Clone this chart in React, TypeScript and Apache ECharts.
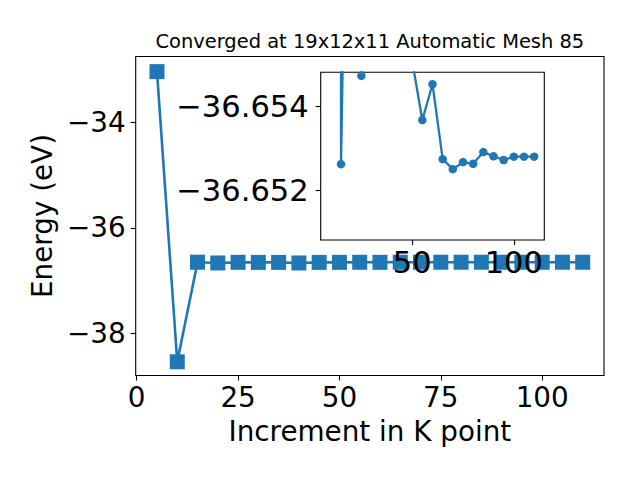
import React, { useEffect, useRef } from 'react';
import * as echarts from 'echarts';

const kPoints = [5, 10, 15, 20, 25, 30, 35, 40, 45, 50, 55, 60, 65, 70, 75, 80, 85, 90, 95, 100, 105, 110];
const energies = [
  -33.04, -38.54, -36.65262, -36.667, -36.65474, -36.656, -36.656, -36.667, -36.656, -36.6551,
  -36.65368, -36.65454, -36.65274, -36.6525, -36.65267, -36.65263, -36.65291, -36.65281, -36.65272,
  -36.6528, -36.6528, -36.6528,
];
const mainXTicks = [0, 25, 50, 75, 100];
const mainYTicks = [-38, -36, -34];
const insetXTicks = [50, 100];
const insetYTicks = [-36.654, -36.652];
const titleText = 'Converged at 19x12x11 Automatic Mesh 85';
const xLabel = 'Increment in K point';
const yLabel = 'Energy (eV)';

const FONT = 'DejaVu Sans';
const BLUE = '#1f77b4';
const fmt = (v: number) => String(v).replace('-', '\u2212');

export default function App() {
  const ref = useRef<HTMLDivElement>(null);
  useEffect(() => {
    if (!ref.current) return;
    const chart = echarts.init(ref.current, null, { renderer: 'svg' });
    const mainData = kPoints.map((x, i) => [x, energies[i]]);
    const insetData = kPoints.slice(1).map((x, i) => [x, energies[i + 1]]);
    const tick = (vals: number[]) => ({
      show: true,
      length: 5,
      customValues: vals,
      lineStyle: { color: '#000', width: 1.1 },
    });
    const label = (vals: number[], margin: number, size: number) => ({
      customValues: vals,
      fontSize: size,
      color: '#000',
      fontFamily: FONT,
      margin,
      formatter: (v: number) => fmt(v),
    });
    chart.setOption({
      animation: false,
      backgroundColor: '#fff',
      graphic: [
        {
          type: 'text',
          x: 369.85,
          y: 41,
          style: {
            text: titleText,
            fontSize: 19.44,
            fontFamily: FONT,
            fill: '#000',
            textAlign: 'center',
            textVerticalAlign: 'middle',
          },
        },
      ],
      grid: [
        {
          left: 135.7, top: 56.5, width: 468.3, height: 319,
          show: true, borderColor: '#000', borderWidth: 1.1, backgroundColor: '#fff',
          outerBoundsMode: 'none',
        },
        {
          left: 320.7, top: 72.3, width: 223.6, height: 167.7,
          show: true, borderColor: '#000', borderWidth: 1.1, backgroundColor: '#fff',
          outerBoundsMode: 'none', z: 5,
        },
      ],
      xAxis: [
        {
          gridIndex: 0, type: 'value', min: -0.25, max: 115.25,
          splitLine: { show: false },
          axisLine: { show: false, onZero: false },
          axisTick: tick(mainXTicks),
          axisLabel: label(mainXTicks, 8, 27.8),
          name: xLabel, nameLocation: 'middle', nameGap: 42,
          nameTextStyle: { fontSize: 27.8, color: '#000', fontFamily: FONT },
        },
        {
          gridIndex: 1, type: 'value', min: 5, max: 115, z: 10,
          splitLine: { show: false },
          axisLine: { show: false, onZero: false },
          axisTick: tick(insetXTicks),
          axisLabel: label(insetXTicks, 6.5, 30.56),
        },
      ],
      yAxis: [
        {
          gridIndex: 0, type: 'value', min: -38.8, max: -32.753,
          splitLine: { show: false },
          axisLine: { show: false, onZero: false },
          axisTick: tick(mainYTicks),
          axisLabel: label(mainYTicks, 10, 27.8),
          name: yLabel, nameLocation: 'middle', nameGap: 72, nameRotate: 90,
          nameTextStyle: { fontSize: 27.8, color: '#000', fontFamily: FONT },
        },
        {
          gridIndex: 1, type: 'value', inverse: true, min: -36.654826, max: -36.6508, z: 10,
          splitLine: { show: false },
          axisLine: { show: false, onZero: false },
          axisTick: tick(insetYTicks),
          axisLabel: label(insetYTicks, 12, 30.56),
        },
      ],
      series: [
        {
          type: 'line', xAxisIndex: 0, yAxisIndex: 0, data: mainData,
          symbol: 'rect', symbolSize: 15, z: 2, silent: true,
          lineStyle: { width: 2.6, color: BLUE }, itemStyle: { color: BLUE },
          emphasis: { disabled: true },
        },
        {
          type: 'line', xAxisIndex: 1, yAxisIndex: 1, data: insetData,
          symbol: 'circle', symbolSize: 8.5, z: 10, clip: true, silent: true,
          lineStyle: { width: 2.3, color: BLUE }, itemStyle: { color: BLUE },
          emphasis: { disabled: true },
        },
      ],
    });
    return () => chart.dispose();
  }, []);
  return <div ref={ref} style={{ position: 'fixed', left: 0, top: 0, width: 640, height: 480 }} />;
}
